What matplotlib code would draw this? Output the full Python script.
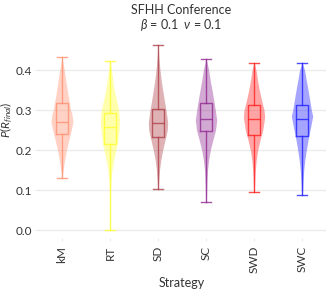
import matplotlib
matplotlib.use("Agg")
import matplotlib.pyplot as plt

plt.rcParams['font.family'] = ['Lato', 'DejaVu Sans']
plt.rcParams['mathtext.fontset'] = 'custom'
plt.rcParams['mathtext.it'] = 'Lato:italic'
plt.rcParams['mathtext.rm'] = 'Lato'

strategies = ['kM', 'RT', 'SD', 'SC', 'SWD', 'SWC']
colors = ['#FF9070', '#FFFF30', '#B04048', '#902890', '#FF2020', '#2020FF']

# box stats
whislo = [0.129, 0.0, 0.1025, 0.07, 0.095, 0.0875]
q1 = [0.240, 0.214, 0.233, 0.247, 0.239, 0.234]
med = [0.270, 0.259, 0.267, 0.277, 0.279, 0.277]
q3 = [0.317, 0.294, 0.304, 0.317, 0.312, 0.312]
whishi = [0.4325, 0.4225, 0.4625, 0.4275, 0.4175, 0.4175]

# violin outlines: (value, relative density)
violins = [
    [(0.129, 0), (0.15, 1.2), (0.175, 2.6), (0.2, 4.5), (0.225, 6.8), (0.25, 9.3),
     (0.27, 11), (0.29, 10), (0.3, 8.7), (0.325, 7), (0.35, 5.3), (0.375, 3.8),
     (0.4, 2.3), (0.4325, 0)],
    [(0.0, 0.3), (0.05, 0.4), (0.1, 0.6), (0.125, 1), (0.15, 2), (0.175, 3.8),
     (0.2, 6), (0.225, 7.8), (0.25, 9), (0.27, 9.7), (0.3, 8.7), (0.325, 6.5),
     (0.35, 4.3), (0.375, 2.8), (0.4, 1.5), (0.4225, 0.3)],
    [(0.1025, 0.3), (0.125, 0.8), (0.15, 1.5), (0.175, 2.8), (0.2, 4.7), (0.225, 7),
     (0.25, 9.3), (0.27, 9.7), (0.3, 8), (0.325, 6.3), (0.35, 4.7), (0.375, 3.2),
     (0.4, 2), (0.43, 0.9), (0.4625, 0.2)],
    [(0.07, 0.3), (0.1, 0.7), (0.125, 1), (0.15, 1.5), (0.175, 2.6), (0.2, 4.3),
     (0.225, 6.8), (0.25, 9.5), (0.275, 10.7), (0.3, 9.3), (0.325, 7.7), (0.35, 6),
     (0.375, 4.2), (0.4, 2.7), (0.4275, 0.3)],
    [(0.095, 0.3), (0.125, 0.8), (0.15, 1.3), (0.175, 2.2), (0.2, 3.7), (0.225, 6),
     (0.25, 8.7), (0.283, 10.7), (0.3, 10), (0.325, 7.5), (0.35, 5.3), (0.375, 3.5),
     (0.4, 2), (0.4175, 0.3)],
    [(0.0875, 0.3), (0.1, 0.7), (0.125, 1.1), (0.15, 1.7), (0.175, 2.8), (0.2, 4.3),
     (0.225, 6), (0.25, 8), (0.285, 10.7), (0.3, 9.3), (0.325, 7.7), (0.35, 6),
     (0.375, 4.2), (0.4, 2.5), (0.4175, 0.3)],
]

fig = plt.figure(figsize=(3.3, 2.91), dpi=100)
ax = fig.add_axes([0.115, 0.182, 0.873, 0.68])

scale = 1 / 48.0
for i, prof in enumerate(violins):
    ys = [p[0] for p in prof]
    ws = [p[1] * scale for p in prof]
    ax.fill_betweenx(ys, [i - w for w in ws], [i + w for w in ws],
                     color=colors[i], alpha=0.4, lw=0, zorder=2)

stats = [dict(whislo=whislo[i], q1=q1[i], med=med[i], q3=q3[i], whishi=whishi[i],
              fliers=[]) for i in range(len(strategies))]
for i, s in enumerate(stats):
    kw = dict(color=colors[i], alpha=0.8, lw=1.0)
    ax.bxp([s], positions=[i], widths=0.26, showfliers=False,
           boxprops=kw, medianprops=kw, whiskerprops=kw,
           capprops=kw, capwidths=0.22, manage_ticks=False, zorder=3)

ax.set_xlim(-0.5, 5.5)
ax.set_ylim(-0.02, 0.475)
ax.set_yticks([0.0, 0.1, 0.2, 0.3, 0.4])
ax.set_yticklabels(['0.0', '0.1', '0.2', '0.3', '0.4'])
ax.set_xticks(range(len(strategies)))
ax.set_xticklabels(strategies, rotation=90)
ax.tick_params(axis='both', labelsize=8.5, colors='#333333', length=2, width=0.5)
ax.tick_params(axis='both', color='#DDDDDD')
ax.tick_params(axis='y', pad=2)
ax.grid(axis='y', color='#EBEBEB', lw=1.0, zorder=0)
ax.set_axisbelow(True)
for sp in ax.spines.values():
    sp.set_visible(False)

ax.set_xlabel('Strategy', fontsize=9, color='#333333', labelpad=3)
ax.set_ylabel(r'$P(R_{final})$', fontsize=8.5, color='#333333')
ax.yaxis.set_label_coords(-0.078, 0.6)

fig.text(0.548, 0.965, 'SFHH Conference', ha='center', va='center', fontsize=9, color='#333333')
fig.text(0.548, 0.915, r'$\beta$ = 0.1  $\nu$ = 0.1', ha='center', va='center',
         fontsize=9, color='#333333')

fig.savefig('out.png', dpi=100)
